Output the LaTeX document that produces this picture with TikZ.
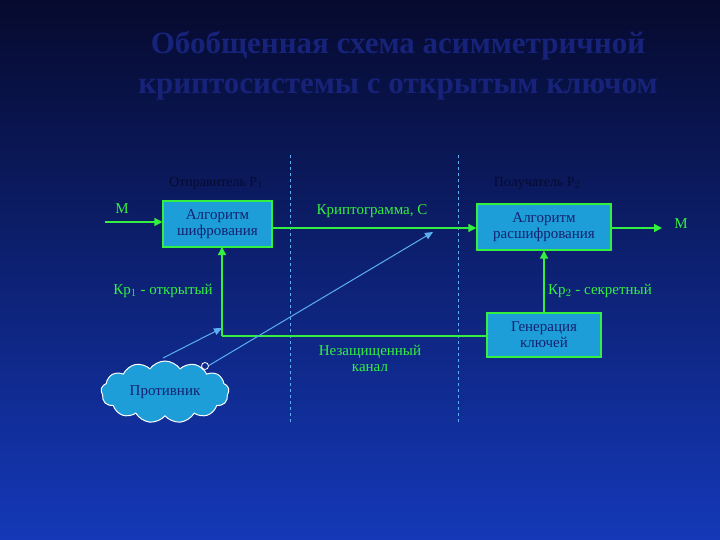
\documentclass[tikz,border=0pt]{standalone}
\usepackage{fontspec}
\setmainfont{Liberation Serif}
\usetikzlibrary{shapes.symbols,arrows.meta}
\definecolor{bgtop}{HTML}{060A2E}
\definecolor{bgbot}{HTML}{1438B8}
\definecolor{ttl}{HTML}{17237A}
\definecolor{boxc}{HTML}{1E9ED8}
\definecolor{grn}{HTML}{33F040}
\definecolor{ltb}{HTML}{5AB0F0}
\definecolor{dtxt}{HTML}{142070}
\definecolor{lbl}{HTML}{060A30}
\tikzset{
 box/.style={draw=grn,line width=1.2pt,fill=boxc,text=dtxt,align=center,inner sep=0pt,font=\fontsize{15}{16}\selectfont},
 gl/.style={text=grn,font=\fontsize{15}{16}\selectfont},
 dl/.style={text=lbl,font=\fontsize{14}{15}\selectfont},
 garr/.style={draw=grn,line width=1.5pt,-{Triangle[length=8pt,width=8pt]}},
 gline/.style={draw=grn,line width=1.5pt},
 barr/.style={draw=ltb,line width=1pt,-{Triangle[length=8pt,width=7pt]}},
}
\begin{document}
\begin{tikzpicture}[x=1pt,y=-1pt]
\shade[top color=bgtop,bottom color=bgbot] (0,0) rectangle (720,540);
\useasboundingbox (0,0) rectangle (720,540);
\node[text=ttl,font=\bfseries\fontsize{31}{40}\selectfont,align=center] (title) at (398,66) {Обобщенная схема асимметричной\\криптосистемы с открытым ключом};
\draw[ltb,dashed,line width=0.8pt] (290,155) -- (290,425);
\draw[ltb,dashed,line width=0.8pt] (458,155) -- (458,425);
\node[dl] (s) at (216,183) {Отправитель P$_1$};
\node[dl] (r) at (537,183) {Получатель P$_2$};
\node[box,minimum width=109pt,minimum height=46pt] (b1) at (217.5,224) {Алгоритм\\шифрования};
\node[box,minimum width=134pt,minimum height=46pt] (b2) at (544,227) {Алгоритм\\расшифрования};
\node[box,minimum width=114pt,minimum height=44pt] (b3) at (544,335) {Генерация\\ключей};
\node[gl] (m1) at (122,209) {M};
\coordinate (m1s) at (105,222);
\draw[garr] (m1s) -- (m1s -| b1.west);
\draw[garr] (b1.east |- 0,228) -- (b2.west |- 0,228);
\node[gl] (crypt) at (372,211) {Криптограмма, С};
\coordinate (mo) at (662,228);
\draw[garr] (b2.east |- mo) -- (mo);
\node[gl] (m2) at (681,224) {M};
\draw[garr] (b3.north) -- (b2.south);
\node[gl] (k2) at (600,291) {Кр$_2$ - секретный};
\coordinate (corner) at (222,336);
\draw[gline] (b3.west |- corner) -- (corner);
\draw[garr] (corner) -- (222,247);
\node[gl] (k1) at (163,291) {Кр$_1$ - открытый};
\node[gl,align=center] (ch) at (370,358) {Незащищенный\\канал};
\node[cloud,cloud puffs=13,cloud puff arc=110,aspect=2,draw=white,line width=1pt,fill=boxc,minimum width=128pt,minimum height=62pt,text=dtxt,font=\fontsize{15}{16}\selectfont,inner sep=0pt] (adv) at (165,392) {Противник};
\coordinate (a1) at (163,358);
\coordinate (a2) at (222,328);
\draw[barr] (a1) -- (a2);
\coordinate (a3) at (208,366);
\coordinate (a4) at (433,232);
\draw[barr] (a3) -- (a4);
\draw[white,line width=0.8pt] (205,366) circle (3.5);
\end{tikzpicture}
\end{document}
